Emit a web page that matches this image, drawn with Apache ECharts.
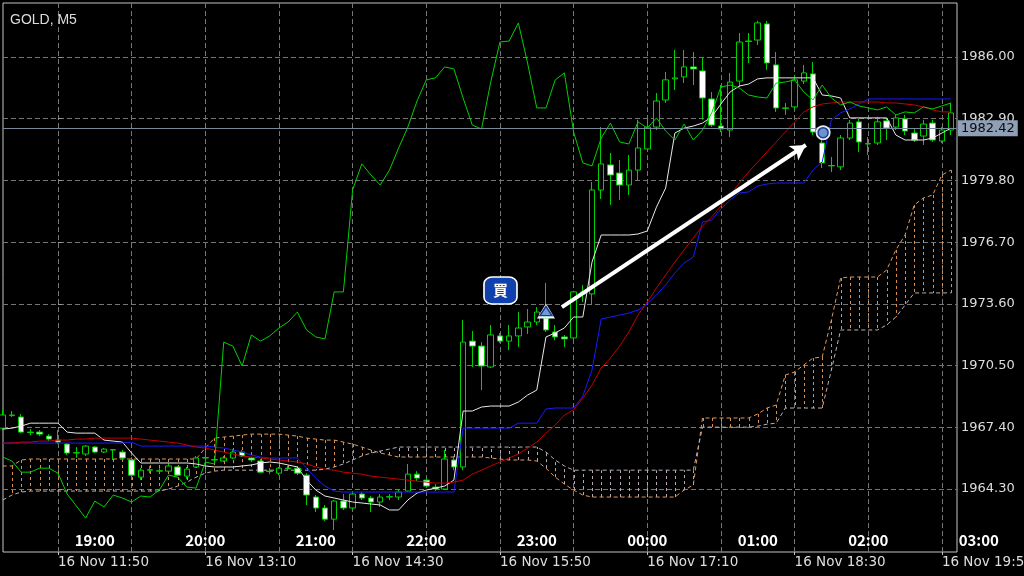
<!DOCTYPE html>
<html><head><meta charset="utf-8">
<script src="https://cdn.jsdelivr.net/npm/echarts@6/dist/echarts.min.js"></script>
<style>html,body{margin:0;padding:0;background:#000;}#c{width:1024px;height:576px;}</style>
</head><body><div id="c"></div>
<script>
// ---- data (M5 bars, bar 0 = 16 Nov 11:50) ----
const firstBar = -6;
// [open, close, low, high]
const ohlc = [
[1967.36,1968.02,1967.26,1968.27],[1967.99,1968.02,1967.92,1968.22],[1967.92,1967.16,1967.11,1968.07],[1967.16,1967.14,1967.01,1967.31],
[1967.16,1967.06,1966.96,1967.26],[1966.96,1966.81,1966.71,1967.06],
[1966.76,1966.66,1966.56,1967.26],[1966.56,1966.11,1966.01,1966.61],[1966.11,1966.13,1965.86,1966.41],[1966.06,1966.46,1965.96,1966.51],
[1966.41,1966.16,1966.11,1966.46],[1966.16,1966.31,1966.11,1966.36],[1966.26,1966.28,1965.76,1966.31],[1966.16,1965.86,1965.76,1966.26],
[1965.76,1965.00,1964.85,1965.91],[1964.90,1965.25,1964.75,1965.35],[1965.25,1965.27,1965.10,1965.46],[1965.20,1965.22,1965.10,1965.35],
[1965.20,1965.46,1965.15,1965.61],[1965.41,1965.00,1964.95,1965.46],[1964.95,1965.30,1964.80,1965.41],[1965.41,1965.86,1965.35,1965.96],
[1965.86,1965.88,1965.41,1966.26],[1965.76,1965.78,1965.66,1965.91],[1965.71,1965.86,1965.66,1965.96],[1965.86,1966.16,1965.81,1966.31],
[1966.16,1965.96,1965.91,1966.26],[1965.86,1965.76,1965.66,1965.91],[1965.71,1965.15,1965.10,1965.81],[1965.20,1965.18,1965.05,1965.35],
[1965.10,1965.35,1965.00,1965.41],[1965.35,1965.33,1965.25,1965.46],[1965.35,1965.10,1965.00,1965.41],[1965.00,1964.00,1963.50,1965.10],
[1963.90,1963.35,1963.15,1964.00],[1963.35,1962.79,1962.69,1963.50],[1962.79,1963.70,1962.24,1963.75],[1963.70,1963.35,1963.25,1964.05],
[1963.35,1964.05,1963.25,1964.15],[1964.05,1963.85,1963.75,1964.15],[1963.85,1963.65,1963.15,1963.95],[1963.65,1963.90,1963.40,1964.05],
[1963.90,1963.92,1963.75,1964.05],[1963.90,1964.15,1963.75,1964.30],[1964.20,1965.05,1964.15,1965.56],[1965.05,1964.85,1964.70,1965.20],
[1964.75,1964.45,1964.35,1964.90],[1964.40,1964.30,1964.20,1964.55],[1964.30,1965.81,1964.25,1966.26],[1965.76,1965.41,1965.25,1965.96],
[1965.41,1971.68,1965.25,1972.79],[1971.73,1971.48,1970.43,1972.24],[1971.48,1970.48,1969.27,1971.68],[1970.43,1972.04,1970.38,1972.54],
[1971.99,1971.73,1971.63,1972.14],[1971.73,1971.99,1971.28,1972.54],[1971.99,1972.39,1971.43,1973.19],[1972.44,1972.69,1972.09,1973.34],
[1972.69,1973.19,1972.54,1973.44],[1972.89,1972.29,1972.19,1974.65],[1972.19,1971.94,1971.78,1972.54],[1971.94,1971.84,1971.43,1972.04],
[1971.89,1974.20,1971.73,1974.25],[1974.10,1974.20,1973.69,1974.55],[1974.10,1979.32,1973.54,1979.72],[1979.32,1980.63,1978.87,1982.48],
[1980.58,1980.07,1978.57,1981.18],[1980.17,1979.57,1978.82,1980.83],[1979.57,1980.32,1979.07,1981.08],[1980.32,1981.43,1979.82,1982.84],
[1981.38,1982.48,1981.23,1982.99],[1982.48,1983.79,1982.33,1984.19],[1983.84,1984.85,1983.69,1985.25],[1984.90,1984.95,1984.34,1986.35],
[1985.00,1985.50,1984.69,1986.35],[1985.50,1985.40,1984.59,1986.25],[1985.30,1983.94,1982.84,1985.95],[1983.89,1982.58,1982.48,1984.24],
[1982.53,1982.38,1982.23,1984.59],[1982.33,1984.74,1981.98,1985.20],[1984.79,1986.75,1984.49,1987.20],[1986.80,1986.78,1985.70,1987.20],
[1986.85,1987.71,1986.60,1987.81],[1987.66,1985.70,1985.35,1987.81],[1985.60,1983.44,1983.24,1986.25],[1983.44,1983.42,1983.09,1983.69],
[1983.49,1984.85,1983.34,1985.10],[1984.79,1985.20,1984.64,1985.60],[1985.15,1982.23,1982.08,1985.75],[1981.68,1980.68,1980.42,1981.83],
[1980.53,1980.55,1980.22,1980.98],[1980.48,1981.93,1980.32,1982.08],[1981.93,1982.68,1981.83,1982.84],[1982.74,1981.73,1981.23,1982.89],
[1981.63,1981.65,1981.08,1981.98],[1981.68,1982.74,1981.58,1982.99],[1982.79,1982.43,1981.83,1982.94],[1982.48,1982.94,1982.33,1983.09],
[1982.89,1982.28,1982.08,1983.09],[1982.18,1981.83,1981.73,1982.38],[1982.03,1982.63,1981.58,1982.84],[1982.68,1981.83,1981.73,1982.84],
[1981.78,1982.33,1981.68,1982.48],[1982.33,1983.19,1982.08,1983.69]
];
const tenkan = [
1967.31,1967.36,1967.46,1967.61,1967.61,1967.61,
1967.61,1967.16,1967.11,1967.11,1967.11,1966.76,1966.71,1966.66,1966.11,1965.61,
1965.61,1965.61,1965.61,1965.61,1965.61,1965.56,1965.46,1965.41,1965.41,1965.41,
1965.46,1965.51,1965.61,1965.66,1965.61,1965.51,1965.41,1964.75,1964.25,1963.95,
1963.85,1963.75,1963.65,1963.60,1963.55,1963.50,1963.25,1963.25,1963.75,1964.10,
1964.25,1964.35,1964.45,1964.75,1968.22,1968.22,1968.42,1968.47,1968.47,1968.47,
1968.67,1969.02,1969.27,1971.94,1972.14,1972.39,1972.94,1972.94,1975.70,1977.06,
1977.06,1977.06,1977.06,1977.11,1977.26,1978.46,1979.42,1982.18,1982.43,1982.53,
1982.68,1982.99,1983.64,1984.24,1984.54,1984.64,1984.90,1984.95,1984.95,1984.95,
1984.95,1984.95,1984.95,1984.09,1984.04,1983.94,1982.94,1982.94,1982.94,1982.94,
1982.94,1982.08,1981.83,1981.83,1981.83,1981.93,1982.18,1982.43
];
const kijun = [
1966.61,1966.61,1966.61,1966.61,1966.61,1966.61,
1966.61,1966.61,1966.61,1966.61,1966.61,1966.61,1966.61,1966.61,1966.66,1966.46,
1966.46,1966.46,1966.46,1966.46,1966.46,1966.46,1966.46,1966.41,1966.36,1966.26,
1966.16,1966.01,1965.91,1965.86,1965.86,1965.86,1965.86,1965.35,1964.85,1964.45,
1964.20,1964.15,1964.15,1964.15,1964.15,1964.15,1964.15,1964.15,1964.15,1964.15,
1964.15,1964.15,1964.15,1964.15,1967.36,1967.36,1967.36,1967.36,1967.36,1967.36,
1967.61,1967.61,1967.61,1968.32,1968.37,1968.37,1968.37,1968.97,1970.28,1972.84,
1972.94,1973.04,1973.14,1973.29,1973.59,1974.05,1974.55,1975.15,1975.65,1975.95,
1977.71,1977.81,1978.36,1978.82,1979.17,1979.22,1979.52,1979.62,1979.67,1979.67,
1979.67,1979.67,1980.32,1980.73,1982.84,1983.19,1983.39,1983.64,1983.89,1983.89,
1983.89,1983.89,1983.89,1983.89,1983.89,1983.89,1983.89,1983.89
];
const movingAvg = [
1966.61,1966.61,1966.66,1966.66,1966.71,1966.71,
1966.76,1966.76,1966.81,1966.81,1966.86,1966.86,1966.86,1966.86,1966.86,1966.81,
1966.76,1966.71,1966.66,1966.61,1966.51,1966.41,1966.36,1966.26,1966.16,1966.06,
1965.96,1965.91,1965.86,1965.81,1965.76,1965.71,1965.66,1965.56,1965.41,1965.30,
1965.25,1965.15,1965.10,1965.05,1964.95,1964.90,1964.85,1964.80,1964.75,1964.70,
1964.65,1964.60,1964.60,1964.65,1964.75,1965.05,1965.25,1965.46,1965.66,1965.86,
1966.06,1966.36,1966.66,1967.11,1967.51,1968.02,1968.27,1968.87,1969.52,1970.38,
1970.88,1971.48,1972.19,1973.04,1973.69,1974.40,1975.05,1975.70,1976.31,1976.91,
1977.51,1977.96,1978.52,1979.07,1979.67,1980.22,1980.73,1981.23,1981.73,1982.23,
1982.74,1983.24,1983.49,1983.64,1983.69,1983.74,1983.74,1983.74,1983.74,1983.74,
1983.69,1983.69,1983.64,1983.59,1983.49,1983.34,1983.24,1983.24
];
const chikou = [
1965.91,1965.71,1965.15,1965.15,1965.35,1965.35,
1965.10,1964.05,1963.45,1962.84,1963.70,1963.40,1964.00,1963.85,1963.65,1963.95,
1963.90,1964.25,1965.00,1964.90,1964.40,1964.35,1965.66,1965.56,1971.68,1971.48,
1970.48,1972.04,1971.73,1971.99,1972.39,1972.69,1973.19,1972.29,1971.94,1971.84,
1974.20,1974.20,1979.32,1980.63,1980.07,1979.57,1980.32,1981.43,1982.48,1983.79,
1984.85,1984.95,1985.50,1985.40,1983.94,1982.58,1982.38,1984.74,1986.75,1986.80,
1987.71,1985.70,1983.44,1983.44,1984.85,1985.20,1982.23,1980.68,1980.53,1981.93,
1982.68,1981.73,1981.63,1982.74,1982.43,1982.94,1982.28,1981.83,1982.63,1981.83,
1982.33,1983.19,1984.49,1984.59,1984.44,1984.09,1983.99,1983.94,1984.69,1984.74,
1984.85,1984.24,1983.84,1984.59,1983.94,1983.59,1983.74,1983.54,1983.44,1983.34,
1983.49,1983.09,1983.24,1983.19,1983.49,1983.39,1983.54,1983.69
];
const spanA = [
1965.46,1965.46,1965.76,1965.81,1965.81,1965.81,
1965.81,1965.81,1965.81,1965.81,1965.81,1965.81,1965.81,1965.81,1965.81,1965.81,
1965.81,1965.81,1965.81,1965.81,1965.81,1965.81,1966.36,1966.86,1966.91,1966.96,
1967.01,1967.06,1967.06,1967.06,1967.06,1967.01,1966.96,1966.86,1966.81,1966.76,
1966.76,1966.66,1966.56,1966.41,1966.26,1966.11,1966.01,1965.91,1965.91,1965.91,
1965.91,1965.91,1965.91,1965.91,1965.91,1965.91,1965.91,1965.86,1965.81,1965.76,
1965.76,1965.76,1965.71,1965.35,1964.90,1964.55,1964.25,1964.00,1963.90,1963.90,
1963.90,1963.90,1963.90,1963.90,1963.90,1963.90,1963.90,1963.90,1964.25,1964.50,
1967.87,1967.87,1967.87,1967.87,1967.87,1967.87,1968.07,1968.37,1968.52,1970.03,
1970.18,1970.53,1970.88,1970.93,1972.79,1974.90,1974.95,1974.95,1974.95,1974.95,
1975.30,1976.31,1977.06,1978.57,1978.92,1979.07,1980.07,1980.32
];
const spanB = [
1963.75,1964.00,1964.15,1964.20,1964.20,1964.20,
1964.20,1964.20,1964.20,1964.20,1964.20,1964.20,1964.20,1964.20,1964.20,1964.20,
1964.20,1964.20,1964.30,1964.45,1964.65,1964.90,1965.10,1965.20,1965.25,1965.25,
1965.25,1965.25,1965.25,1965.25,1965.25,1965.25,1965.25,1965.25,1965.25,1965.30,
1965.41,1965.56,1965.76,1965.96,1966.11,1966.21,1966.31,1966.41,1966.41,1966.41,
1966.41,1966.41,1966.41,1966.41,1966.41,1966.41,1966.41,1966.41,1966.41,1966.41,
1966.41,1966.41,1966.41,1966.16,1965.76,1965.46,1965.25,1965.25,1965.25,1965.25,
1965.25,1965.25,1965.25,1965.25,1965.25,1965.25,1965.25,1965.25,1965.25,1965.25,
1967.41,1967.41,1967.41,1967.41,1967.41,1967.41,1967.46,1967.56,1967.61,1968.37,
1968.37,1968.37,1968.37,1968.37,1970.28,1972.29,1972.29,1972.29,1972.29,1972.29,
1972.54,1972.94,1973.54,1974.15,1974.15,1974.15,1974.15,1974.15
];
// axis labels
const priceTicks = [1964.30,1967.40,1970.50,1973.60,1976.70,1979.80,1982.90,1986.00];
const dateLabels = ['16 Nov 11:50','16 Nov 13:10','16 Nov 14:30','16 Nov 15:50','16 Nov 17:10','16 Nov 18:30','16 Nov 19:50'];
const dateLabelStep = 16, gridStep = 8;
const hourLabels = ['19:00','20:00','21:00','22:00','23:00','00:00','01:00','02:00','03:00'];
const hourLabelFirstBar = 4, hourLabelStep = 12;
// annotations (bar index, price)
const currentPrice = 1982.42;
const buyTag = [48.06, 1974.27];
const entryMark = [53.0, 1973.24];
const exitMark = [83.1, 1982.20];
const arrowPath = [[54.73, 1973.44], [81.23, 1981.58]];

// ---- chart ----
const X_MIN = -5.97, X_MAX = 97.64, X_MAX_WIDE = 101.22;
const Y_MIN = 1961.14, Y_MAX = 1988.71;
const bars = ohlc.map((_, k) => firstBar + k);
const gridBars = []; for (let b = 0; b <= 96; b += gridStep) gridBars.push(b);
const dateBars = dateLabels.map((_, i) => i * dateLabelStep);
const hourBars = hourLabels.map((_, i) => hourLabelFirstBar + i * hourLabelStep);
const GREEN = '#00d000';
const lineOf = (arr) => bars.map((b, k) => [b, arr[k]]);

const chart = echarts.init(document.getElementById('c'), null, {renderer: 'canvas'});
const option = {
  backgroundColor: '#000',
  animation: false,
  title: {text: 'GOLD, M5', left: 5, top: 8,
    textStyle: {color: '#dcdcdc', fontSize: 14, fontWeight: 'normal', fontFamily: 'Liberation Sans, Arial, sans-serif'}},
  grid: [
    {left: 3, right: 67, top: 3, bottom: 24, show: true, borderColor: '#c4c4c4', borderWidth: 1, backgroundColor: '#000',
      containLabel: false, outerBoundsMode: 'none'},
    {left: 3, right: 34, top: 3, bottom: 24, show: false, containLabel: false, outerBoundsMode: 'none'}
  ],
  xAxis: [
    {type: 'value', gridIndex: 0, min: X_MIN, max: X_MAX,
      axisLine: {show: false},
      axisTick: {show: false, customValues: gridBars},
      axisLabel: {show: true, customValues: dateBars, align: 'left', margin: 3, hideOverlap: false,
        formatter: v => dateLabels[Math.round(v / dateLabelStep)] || '',
        color: '#dedede', fontSize: 13.5, fontFamily: 'DejaVu Sans'},
      splitLine: {show: true, lineStyle: {color: '#767676', width: 1, type: [5, 3]}}},
    {type: 'value', gridIndex: 1, min: X_MIN, max: X_MAX_WIDE,
      axisLine: {show: false},
      axisTick: {show: true, customValues: dateBars, length: 3, inside: false, lineStyle: {color: '#c4c4c4'}},
      axisLabel: {show: true, inside: true, customValues: hourBars, margin: 4,
        formatter: v => hourLabels[Math.round((v - hourLabelFirstBar) / hourLabelStep)] || '',
        color: '#ffffff', fontSize: 15, fontWeight: 'bold', fontFamily: 'Noto Sans CJK JP'},
      splitLine: {show: false}}
  ],
  yAxis: [
    {type: 'value', gridIndex: 0, position: 'right', min: Y_MIN, max: Y_MAX, scale: true,
      axisLine: {show: false},
      axisTick: {show: true, customValues: priceTicks, length: 4, lineStyle: {color: '#9a9a9a'}},
      axisLabel: {show: true, customValues: priceTicks, margin: 4, formatter: v => v.toFixed(2),
        color: '#dedede', fontSize: 13, fontFamily: 'DejaVu Sans'},
      splitLine: {show: true, lineStyle: {color: '#767676', width: 1, type: [5, 3]}}},
    {type: 'value', gridIndex: 1, min: 0, max: 1, show: false}
  ],
  series: [
    {type: 'custom', name: 'cloud', z: 1, xAxisIndex: 0, yAxisIndex: 0,
      data: bars.map((b, k) => [b, spanA[k], spanB[k]]),
      encode: {x: 0, y: [1, 2]},
      renderItem: (params, api) => {
        const x = api.value(0), a = api.value(1), b = api.value(2);
        if (x < X_MIN) return null;
        const p1 = api.coord([x, a]), p2 = api.coord([x, b]);
        const px = Math.round(p1[0]) + 0.5;
        return {type: 'line', shape: {x1: px, y1: p1[1], x2: px, y2: p2[1]},
          style: {stroke: a >= b ? '#d9904f' : '#b9aab9', lineWidth: 1, lineDash: [3, 3]}};
      }},
    {type: 'line', name: 'Senkou A', z: 1, data: lineOf(spanA), showSymbol: false, symbol: 'none',
      lineStyle: {color: '#e09858', width: 1, type: [4, 3]}},
    {type: 'line', name: 'Senkou B', z: 1, data: lineOf(spanB), showSymbol: false, symbol: 'none',
      lineStyle: {color: '#b8b0b8', width: 1, type: [4, 3]}},
    {type: 'candlestick', name: 'GOLD', z: 2, barWidth: 6,
      data: bars.map((b, k) => [b].concat(ohlc[k])),
      encode: {x: 0, y: [1, 2, 3, 4]},
      itemStyle: {color: '#000', color0: '#ffffff', borderColor: GREEN, borderColor0: GREEN, borderWidth: 1},
      markLine: {silent: true, animation: false, symbol: ['none', 'none'], precision: 2,
        data: [
          {yAxis: currentPrice, lineStyle: {color: '#778899', width: 1, type: 'solid'},
            label: {show: true, position: 'end', distance: 1, formatter: p => Number(p.value).toFixed(2),
              backgroundColor: '#8fa0b6', color: '#0b0b0b', padding: [2, 3, 1, 3],
              fontSize: 13, fontFamily: 'DejaVu Sans'}},
          [{coord: arrowPath[0], symbol: 'none'},
           {coord: arrowPath[1], symbol: 'arrow', symbolSize: [13, 15],
            lineStyle: {color: '#ffffff', width: 4, type: 'solid'}, label: {show: false}}]
        ]},
      markPoint: {silent: true, animation: false,
        data: [
          {coord: buyTag, symbol: 'roundRect', symbolSize: [33, 27],
            itemStyle: {color: '#1040ad', borderColor: '#ffffff', borderWidth: 1.5},
            label: {show: true, position: 'inside', formatter: '買', color: '#ffffff', fontSize: 15,
              fontWeight: 'bold', fontFamily: 'Noto Sans CJK JP'}},
          {coord: entryMark, symbol: 'triangle', symbolSize: [18, 15], itemStyle: {color: '#f2f5fa'}, label: {show: false}},
          {coord: entryMark, symbol: 'triangle', symbolSize: [12, 9],
            itemStyle: {color: '#6f9ad8', borderColor: '#1b3a8c', borderWidth: 1.5}, label: {show: false}},
          {coord: exitMark, symbol: 'circle', symbolSize: 15, itemStyle: {color: '#e6ecf6'}, label: {show: false}},
          {coord: exitMark, symbol: 'circle', symbolSize: 10,
            itemStyle: {color: '#6f93cf', borderColor: '#1d3c8f', borderWidth: 1.5}, label: {show: false}}
        ]}},
    {type: 'line', name: 'Tenkan', z: 3, data: lineOf(tenkan), showSymbol: false, symbol: 'none',
      lineStyle: {color: '#e8e8e8', width: 1}},
    {type: 'line', name: 'Kijun', z: 3, data: lineOf(kijun), showSymbol: false, symbol: 'none',
      lineStyle: {color: '#1a1aff', width: 1}},
    {type: 'line', name: 'MA', z: 3, data: lineOf(movingAvg), showSymbol: false, symbol: 'none',
      lineStyle: {color: '#c40000', width: 1}},
    {type: 'line', name: 'Chikou', z: 3, data: lineOf(chikou), showSymbol: false, symbol: 'none',
      lineStyle: {color: GREEN, width: 1}}
  ]
};
chart.setOption(option);
</script>
</body></html>
